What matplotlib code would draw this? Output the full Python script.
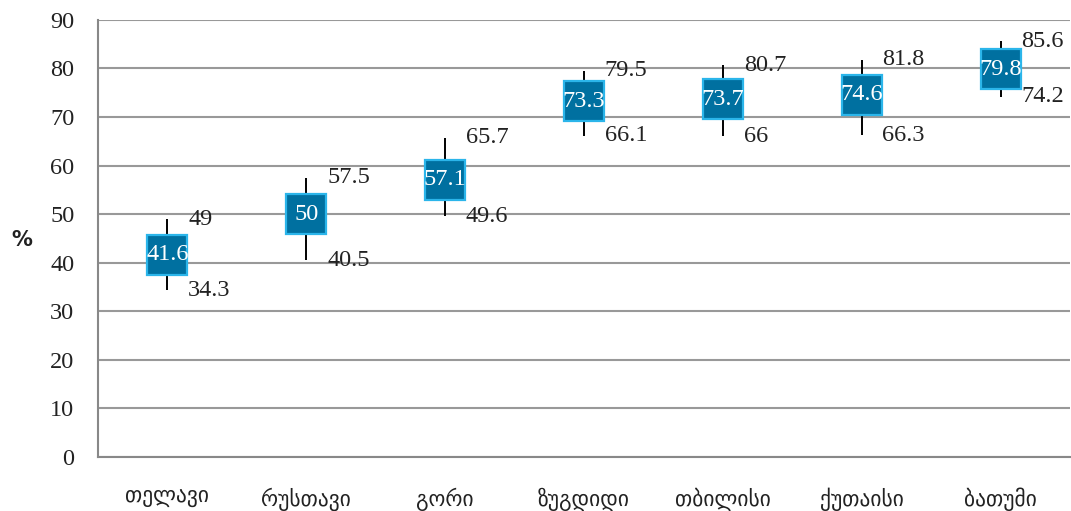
import matplotlib
matplotlib.use("Agg")
import matplotlib.pyplot as plt

# city names and interval values (%)
cities = ["თელავი", "რუსთავი", "გორი", "ზუგდიდი", "თბილისი", "ქუთაისი", "ბათუმი"]
mid = [41.6, 50, 57.1, 73.3, 73.7, 74.6, 79.8]
high = [49, 57.5, 65.7, 79.5, 80.7, 81.8, 85.6]
low = [34.3, 40.5, 49.6, 66.1, 66, 66.3, 74.2]

num_font = ["Liberation Serif", "DejaVu Serif"]

fig = plt.figure(figsize=(10.71, 5.11), dpi=100)
ax = fig.add_axes([0.0915, 0.1057, 0.9075, 0.8553])

x = range(len(cities))

# whiskers from low to high
ax.vlines(x, low, high, color="black", linewidth=1.4, zorder=2)

# square boxes at the mid value
ax.plot(x, mid, linestyle="none", marker="s", markersize=28.5,
        markerfacecolor="#0070A0", markeredgecolor="#2BB5EA",
        markeredgewidth=1.6, zorder=3)

for i in x:
    ax.text(i, mid[i], f"{mid[i]:g}", color="white", ha="center", va="center",
            fontsize=17.5, family=num_font, zorder=4)
    ax.text(i + 0.15, high[i], f"{high[i]:g}", color="#222222", ha="left",
            va="center", fontsize=17.5, family=num_font, zorder=4)
    ax.text(i + 0.15, low[i], f"{low[i]:g}", color="#222222", ha="left",
            va="center", fontsize=17.5, family=num_font, zorder=4)

ax.set_xlim(-0.5, len(cities) - 0.5)
ax.set_ylim(0, 90)
ax.set_yticks(range(0, 91, 10))
ax.set_xticks(list(x))
ax.set_xticklabels(cities, fontsize=15.5, family=["DejaVu Sans"], color="#222222")
for lbl in ax.get_yticklabels():
    lbl.set_family(num_font)
    lbl.set_fontsize(17.5)
    lbl.set_color("#222222")
ax.tick_params(axis="x", length=0, pad=22)
ax.tick_params(axis="y", length=0, pad=17)

ax.grid(axis="y", color="#999999", linewidth=1.5, zorder=0)
ax.set_axisbelow(True)
for s in ["top", "right"]:
    ax.spines[s].set_visible(False)
ax.spines["left"].set_color("#888888")
ax.spines["left"].set_linewidth(1.5)
ax.spines["bottom"].set_color("#888888")
ax.spines["bottom"].set_linewidth(1.5)

fig.text(0.011, 1 - 240 / 511, "%", fontsize=15, fontweight="bold",
         color="#222222", va="center", ha="left")

fig.savefig("out.png", dpi=100)
